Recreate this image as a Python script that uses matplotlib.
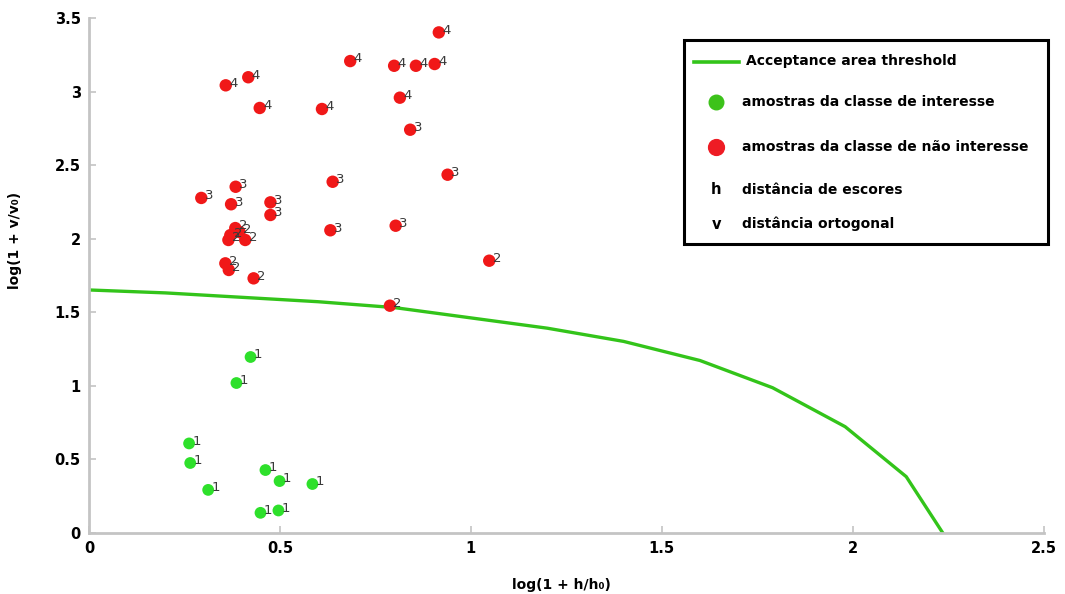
import matplotlib.pyplot as plt
from matplotlib.patches import Rectangle
from matplotlib.lines import Line2D

# acceptance threshold curve
thr_x = [0, 0.2, 0.4, 0.6, 0.8, 1.0, 1.2, 1.4, 1.6, 1.79, 1.98, 2.14, 2.235]
thr_y = [1.65, 1.63, 1.60, 1.57, 1.53, 1.46, 1.39, 1.30, 1.17, 0.985, 0.72, 0.38, 0.0]

# class of interest (label 1)
g_x = [0.423, 0.386, 0.262, 0.265, 0.312, 0.462, 0.499, 0.585, 0.449, 0.496]
g_y = [1.194, 1.017, 0.606, 0.473, 0.290, 0.425, 0.350, 0.330, 0.134, 0.150]
g_lab = ["1"] * len(g_x)

# class of no interest (labels 2, 3, 4)
r_x = [0.370, 0.383, 0.409, 0.365, 0.394, 0.357, 0.366, 0.431, 1.048, 0.788,
       0.841, 0.939, 0.638, 0.384, 0.294, 0.372, 0.475, 0.475, 0.632, 0.803,
       0.358, 0.417, 0.447, 0.610, 0.684, 0.799, 0.856, 0.905, 0.916, 0.814]
r_y = [2.023, 2.071, 1.990, 1.990, 2.044, 1.831, 1.786, 1.729, 1.849, 1.543,
       2.740, 2.434, 2.386, 2.352, 2.276, 2.233, 2.246, 2.160, 2.056, 2.087,
       3.042, 3.097, 2.888, 2.881, 3.207, 3.175, 3.175, 3.187, 3.402, 2.958]
r_lab = ["2"] * 10 + ["3"] * 10 + ["4"] * 10

line_green = "#33c41a"
dot_green = "#2ee02b"
dot_red = "#f01818"
spine_gray = "#c4c4c4"

fig = plt.figure(figsize=(10.65, 5.94), dpi=100)
ax = fig.add_axes([0.0836, 0.1035, 0.8964, 0.8662])

ax.plot(thr_x, thr_y, color=line_green, linewidth=2.4, zorder=2)

ax.scatter(g_x, g_y, s=72, color=dot_green, edgecolors="none", zorder=3)
ax.scatter(r_x, r_y, s=80, color=dot_red, edgecolors="none", zorder=3)

for x, y, t in zip(g_x + r_x, g_y + r_y, g_lab + r_lab):
    ax.annotate(t, (x, y), xytext=(2.5, 1.5), textcoords="offset points",
                fontsize=9.5, color="#3a3a3a", va="center", ha="left", zorder=4)

ax.set_xlim(0, 2.5)
ax.set_ylim(0, 3.5)
ax.set_xticks([0, 0.5, 1, 1.5, 2, 2.5])
ax.set_xticklabels(["0", "0.5", "1", "1.5", "2", "2.5"])
ax.set_yticks([0, 0.5, 1, 1.5, 2, 2.5, 3, 3.5])
ax.set_yticklabels(["0", "0.5", "1", "1.5", "2", "2.5", "3", "3.5"])

for s in ["top", "right"]:
    ax.spines[s].set_visible(False)
for s in ["left", "bottom"]:
    ax.spines[s].set_color(spine_gray)
    ax.spines[s].set_linewidth(2)
ax.tick_params(direction="in", length=5, width=1.2, color=spine_gray,
               labelsize=10.5, pad=6)
for lbl in ax.get_xticklabels() + ax.get_yticklabels():
    lbl.set_fontweight("bold")

ax.set_xlabel("log(1 + h/h\u2080)", fontsize=10, fontweight="bold")
ax.set_ylabel("log(1 + v/v\u2080)", fontsize=10, fontweight="bold")
ax.xaxis.set_label_coords(0.495, -0.088)
ax.yaxis.set_label_coords(-0.07, 0.568)

# legend box drawn by hand
lx0, ly0, lx1, ly1 = 0.623, 0.560, 1.005, 0.957
ax.add_patch(Rectangle((lx0, ly0), lx1 - lx0, ly1 - ly0, transform=ax.transAxes,
                       facecolor="white", edgecolor="black", linewidth=2.2,
                       zorder=5, clip_on=False))
ax.add_line(Line2D([0.634, 0.681], [0.915, 0.915], transform=ax.transAxes,
                   color=line_green, linewidth=2.6, zorder=6, clip_on=False))
ax.scatter([0.657], [0.837], s=110, color="#3cc21a", transform=ax.transAxes,
           zorder=6, clip_on=False)
ax.scatter([0.657], [0.750], s=130, color="#ee1c24", transform=ax.transAxes,
           zorder=6, clip_on=False)
ax.text(0.657, 0.666, "h", transform=ax.transAxes, fontsize=10.5,
        fontweight="bold", ha="center", va="center", zorder=6)
ax.text(0.657, 0.598, "v", transform=ax.transAxes, fontsize=10.5,
        fontweight="bold", ha="center", va="center", zorder=6)
leg_txt = ["Acceptance area threshold",
           "amostras da classe de interesse",
           "amostras da classe de n\u00e3o interesse",
           "dist\u00e2ncia de escores",
           "dist\u00e2ncia ortogonal"]
leg_y = [0.917, 0.837, 0.750, 0.666, 0.600]
for t, yy in zip(leg_txt, leg_y):
    ax.text(0.688 if yy > 0.9 else 0.684, yy, t, transform=ax.transAxes,
            fontsize=10, fontweight="bold", ha="left", va="center", zorder=6)

fig.savefig("out.png", dpi=100)
